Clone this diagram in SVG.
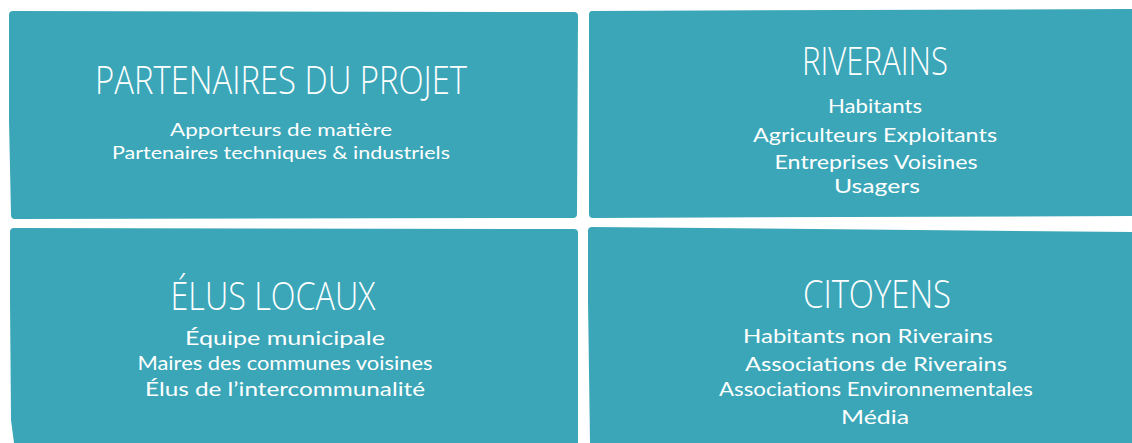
<svg xmlns="http://www.w3.org/2000/svg" width="1132" height="443" viewBox="0 0 1132 443">
  <style>
    .box { fill: #3aa6b8; }
    .title { font-family: "Open Sans", "Lato", sans-serif; font-weight: 300; font-size: 38px; fill: #ffffff; text-anchor: middle; }
    .item { font-family: "Lato", "Open Sans", sans-serif; font-weight: 400; font-size: 20px; fill: #ffffff; text-anchor: middle; }
    .small { font-size: 18px; }
  </style>
  <rect x="0" y="0" width="1132" height="443" fill="#ffffff"/>
  <g id="partenaires">
    <path class="box" d="M 13 11 L 574 12 Q 578 12 578 16 L 577 214 Q 577 218 573 218 L 15 219 Q 11 219 11 215 L 9 120 L 9 15 Q 9 11 13 11 Z"/>
    <text class="title" x="281" y="94" textLength="372" lengthAdjust="spacingAndGlyphs">PARTENAIRES DU PROJET</text>
    <text class="item small" x="281" y="136" textLength="222" lengthAdjust="spacingAndGlyphs">Apporteurs de matière</text>
    <text class="item small" x="281" y="159" textLength="338" lengthAdjust="spacingAndGlyphs">Partenaires techniques &amp; industriels</text>
  </g>
  <g id="riverains">
    <path class="box" d="M 592 11 L 1132 9 L 1132 216 L 593 218 Q 589 218 589 214 L 589 15 Q 589 11 592 11 Z"/>
    <text class="title" x="875" y="75" textLength="146" lengthAdjust="spacingAndGlyphs">RIVERAINS</text>
    <text class="item" x="875" y="113" textLength="94" lengthAdjust="spacingAndGlyphs">Habitants</text>
    <text class="item" x="875" y="142" textLength="244" lengthAdjust="spacingAndGlyphs">Agriculteurs Exploitants</text>
    <text class="item" x="876" y="169" textLength="203" lengthAdjust="spacingAndGlyphs">Entreprises Voisines</text>
    <text class="item" x="877" y="193" textLength="86" lengthAdjust="spacingAndGlyphs">Usagers</text>
  </g>
  <g id="elus">
    <path class="box" d="M 14 228 L 574 229 Q 578 229 578 233 L 578 443 L 14 443 L 11 420 L 10 300 L 10 232 Q 10 228 14 228 Z"/>
    <text class="title" x="273" y="310" textLength="205" lengthAdjust="spacingAndGlyphs">ÉLUS LOCAUX</text>
    <text class="item" x="285" y="345" textLength="200" lengthAdjust="spacingAndGlyphs">Équipe municipale</text>
    <text class="item" x="285" y="370" textLength="295" lengthAdjust="spacingAndGlyphs">Maires des communes voisines</text>
    <text class="item" x="285" y="396" textLength="280" lengthAdjust="spacingAndGlyphs">Élus de l’intercommunalité</text>
  </g>
  <g id="citoyens">
    <path class="box" d="M 592 227 L 1132 232 L 1132 443 L 590 443 L 588 300 L 588 231 Q 588 227 592 227 Z"/>
    <text class="title" x="877" y="308" textLength="148" lengthAdjust="spacingAndGlyphs">CITOYENS</text>
    <text class="item" x="868" y="343" textLength="250" lengthAdjust="spacingAndGlyphs">Habitants non Riverains</text>
    <text class="item" x="876" y="371" textLength="262" lengthAdjust="spacingAndGlyphs">Associations de Riverains</text>
    <text class="item" x="876" y="396" textLength="314" lengthAdjust="spacingAndGlyphs">Associations Environnementales</text>
    <text class="item" x="875" y="424" textLength="68" lengthAdjust="spacingAndGlyphs">Média</text>
  </g>
  <g id="connectors"/>
</svg>
